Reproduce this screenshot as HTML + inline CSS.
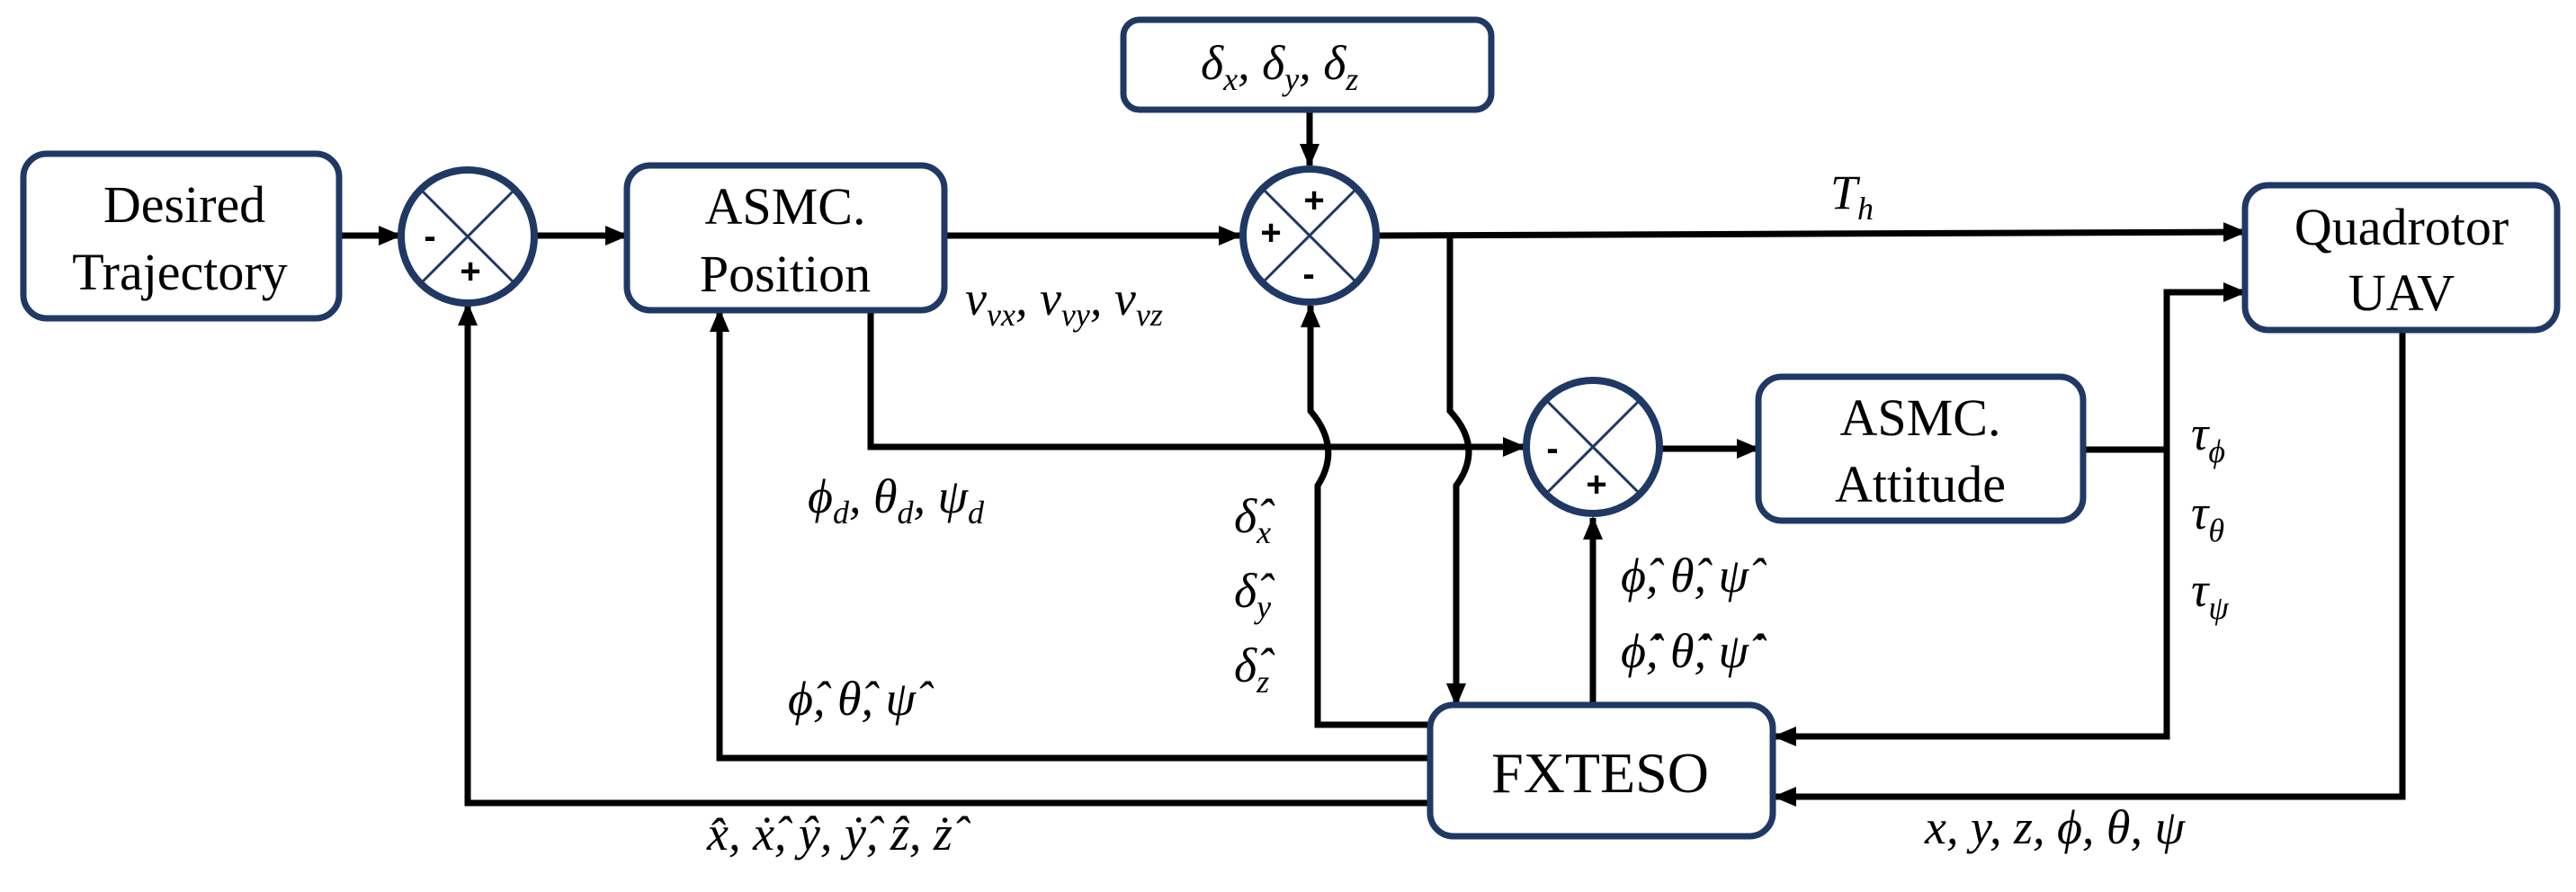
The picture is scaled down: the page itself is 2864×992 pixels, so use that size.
<!DOCTYPE html>
<html><head><meta charset="utf-8"><style>
html,body{margin:0;padding:0;background:#fff;}
svg{display:block}
.box{fill:#fff;stroke:#1f3864;stroke-width:7}
.ln{stroke:#000;stroke-width:7;fill:none}
.cir{fill:#fff;stroke:#1f3864;stroke-width:8}
.x{stroke:#1f3864;stroke-width:3}
.t{font-family:"Liberation Serif",serif;font-size:58px;fill:#000;text-anchor:middle}
.m{font-family:"Liberation Serif",serif;font-style:italic;font-size:54px;fill:#000}
.s{font-size:36px}
.sg{font-family:"Liberation Sans",sans-serif;font-weight:bold;font-size:40px;fill:#000;text-anchor:middle}
</style></head><body>
<svg width="2864" height="992" viewBox="0 0 2864 992" xmlns="http://www.w3.org/2000/svg">
<defs><marker id="a" markerWidth="8" markerHeight="8" refX="7" refY="4" orient="auto" markerUnits="userSpaceOnUse" viewBox="0 0 8 8"><path d="M0,0 L8,4 L0,8z" fill="#000"/></marker>
<marker id="ah" markerWidth="26" markerHeight="26" refX="24" refY="13" orient="auto" markerUnits="userSpaceOnUse"><path d="M0,2 L26,13 L0,24z" fill="#000"/></marker></defs>

<!-- lines -->
<line class="ln" x1="377" y1="262" x2="445" y2="262" marker-end="url(#ah)"/>
<line class="ln" x1="596" y1="262" x2="697" y2="262" marker-end="url(#ah)"/>
<line class="ln" x1="1050" y1="262" x2="1379" y2="262" marker-end="url(#ah)"/>
<line class="ln" x1="1456" y1="122" x2="1456" y2="184" marker-end="url(#ah)"/>
<line class="ln" x1="1533" y1="262" x2="2496" y2="258" marker-end="url(#ah)"/>
<path class="ln" d="M1612,260 V457 Q1650,498 1619,540 V784" marker-end="url(#ah)"/>
<path class="ln" d="M968,345 V497 H1695" marker-end="url(#ah)"/>
<path class="ln" d="M1590,806 H1465 V540 Q1492,498 1457,457 V340" marker-end="url(#ah)"/>
<path class="ln" d="M1771,784 V576" marker-end="url(#ah)"/>
<line class="ln" x1="1847" y1="499" x2="1955" y2="499" marker-end="url(#ah)"/>
<path class="ln" d="M2316,500 H2409 V325 H2496" marker-end="url(#ah)"/>
<path class="ln" d="M2409,500 V819 H1973" marker-end="url(#ah)"/>
<path class="ln" d="M2671,367 V886 H1973" marker-end="url(#ah)"/>
<path class="ln" d="M1590,843 H800 V345" marker-end="url(#ah)"/>
<path class="ln" d="M1590,893 H520 V338" marker-end="url(#ah)"/>

<!-- boxes -->
<rect class="box" x="26" y="171" width="351" height="183" rx="26"/>
<text class="t" x="205" y="247">Desired</text>
<text class="t" x="200" y="322">Trajectory</text>
<rect class="box" x="697" y="184" width="353" height="161" rx="26"/>
<text class="t" x="873" y="249">ASMC.</text>
<text class="t" x="873" y="324">Position</text>
<rect class="box" x="1249" y="22" width="409" height="100" rx="18"/>
<text class="m" x="1335" y="88">δ<tspan class="s" dy="12">x</tspan><tspan dy="-12">, δ</tspan><tspan class="s" dy="12">y</tspan><tspan dy="-12">, δ</tspan><tspan class="s" dy="12">z</tspan></text>
<rect class="box" x="2496" y="206" width="347" height="161" rx="26"/>
<text class="t" x="2670" y="272">Quadrotor</text>
<text class="t" x="2670" y="345">UAV</text>
<rect class="box" x="1955" y="419" width="361" height="160" rx="26"/>
<text class="t" x="2135" y="484">ASMC.</text>
<text class="t" x="2135" y="558">Attitude</text>
<rect class="box" x="1590" y="784" width="381" height="146" rx="26"/>
<text class="t" x="1779" y="881" style="font-size:64px">FXTESO</text>

<!-- sums -->
<circle class="cir" cx="520" cy="263" r="74"/>
<line class="x" x1="468" y1="211" x2="572" y2="315"/><line class="x" x1="572" y1="211" x2="468" y2="315"/>
<text class="sg" x="478" y="276">-</text><text class="sg" x="523" y="315">+</text>
<circle class="cir" cx="1456" cy="262" r="74"/>
<line class="x" x1="1404" y1="210" x2="1508" y2="314"/><line class="x" x1="1508" y1="210" x2="1404" y2="314"/>
<text class="sg" x="1461" y="236">+</text><text class="sg" x="1413" y="272">+</text><text class="sg" x="1455" y="318">-</text>
<circle class="cir" cx="1771" cy="497" r="74"/>
<line class="x" x1="1719" y1="445" x2="1823" y2="549"/><line class="x" x1="1823" y1="445" x2="1719" y2="549"/>
<text class="sg" x="1726" y="512">-</text><text class="sg" x="1775" y="552">+</text>

<!-- labels -->
<text class="m" x="1073" y="350">ν<tspan class="s" dy="12">vx</tspan><tspan dy="-12">, ν</tspan><tspan class="s" dy="12">vy</tspan><tspan dy="-12">, ν</tspan><tspan class="s" dy="12">vz</tspan></text>
<text class="m" x="898" y="570">ϕ<tspan class="s" dy="12">d</tspan><tspan dy="-12">, θ</tspan><tspan class="s" dy="12">d</tspan><tspan dy="-12">, ψ</tspan><tspan class="s" dy="12">d</tspan></text>
<text class="m" x="876" y="795">ϕ̂, θ̂, ψ̂</text>
<text class="m" x="786" y="945">x̂, ẋ̂, ŷ, ẏ̂, ẑ, ż̂</text>
<text class="m" x="1372" y="592">δ̂<tspan class="s" dy="12">x</tspan></text>
<text class="m" x="1372" y="675">δ̂<tspan class="s" dy="12">y</tspan></text>
<text class="m" x="1372" y="758">δ̂<tspan class="s" dy="12">z</tspan></text>
<text class="m" x="2035" y="232">T<tspan class="s" dy="12">h</tspan></text>
<text class="m" x="2436" y="500">τ<tspan class="s" dy="14">ϕ</tspan></text>
<text class="m" x="2436" y="588">τ<tspan class="s" dy="14">θ</tspan></text>
<text class="m" x="2436" y="674">τ<tspan class="s" dy="14">ψ</tspan></text>
<text class="m" x="1802" y="658">ϕ̂, θ̂, ψ̂</text>
<text class="m" x="1802" y="742">ϕ̂̇, θ̂̇, ψ̂̇</text>
<text class="m" x="2140" y="938">x, y, z, ϕ, θ, ψ</text>
</svg>
</body></html>
